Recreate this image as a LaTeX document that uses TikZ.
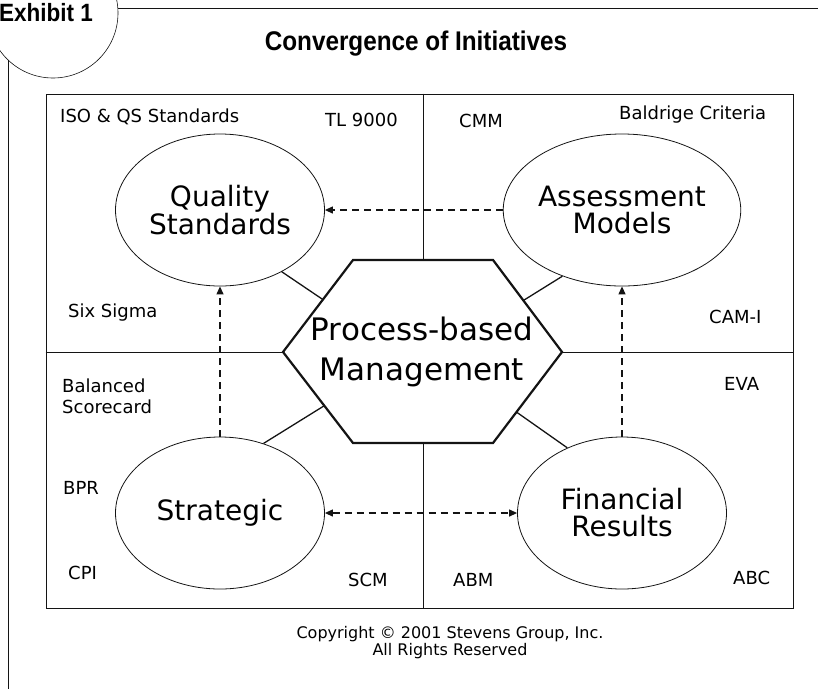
\documentclass[tikz,border=0pt]{standalone}
\usepackage{fontspec}
\setmainfont{DejaVu Sans}
\newfontfamily\headfont[FakeStretch=0.9]{Liberation Sans}
\usepackage{tikz}
\usetikzlibrary{positioning,arrows.meta,shapes.geometric,calc}
\definecolor{exInk}{RGB}{20,20,20}

\begin{document}
\begin{tikzpicture}[x=1pt,y=-1pt,
    area/.style={ellipse, draw=exInk, line width=0.8pt, minimum width=209, minimum height=152,
      inner sep=0, align=center, font=\fontsize{28}{27}\selectfont},
    tag/.style={anchor=west, inner sep=0, font=\fontsize{18}{21}\selectfont},
    rule/.style={exInk, line width=0.8pt},
    link/.style={exInk, line width=1.3pt},
    flow/.style={exInk, line width=1.2pt, dash pattern=on 7pt off 5pt,
      -{Triangle[length=8pt,width=7pt]}}]
  \useasboundingbox (0,0) rectangle (818,689);

  % Exhibit tab and page rules
  \node[circle, draw=exInk, line width=0.6pt, minimum size=130, inner sep=0] (tab) at (53,13) {};
  \node[anchor=base west, inner sep=0, font=\headfont\bfseries\fontsize{25}{27}\selectfont] (exhibit) at (-1,21) {Exhibit 1};
  \coordinate (topend) at (818,8);
  \coordinate (sideend) at (8,689);
  \draw[rule] (118,8) -- (topend);
  \draw[rule] (8,60) -- (sideend);

  % Title
  \node[anchor=base, font=\headfont\bfseries\fontsize{27}{30}\selectfont] (title) at (416,50) {Convergence of Initiatives};

  % Frame
  \node[draw=exInk, line width=0.8pt, minimum width=747, minimum height=514, inner sep=0] (frame) at (419.5,351) {};

  % Centre hexagon
  \coordinate (hw) at (283,352);
  \coordinate (hnw) at (353,260);
  \coordinate (hne) at (493,260);
  \coordinate (he) at (562,352);
  \coordinate (hse) at (493,443);
  \coordinate (hsw) at (353,443);
  \fill[white] (hw) -- (hnw) -- (hne) -- (he) -- (hse) -- (hsw) -- cycle;
  \draw[exInk, line width=2.2pt, line join=miter] (hw) -- (hnw) -- (hne) -- (he) -- (hse) -- (hsw) -- cycle;
  \node[align=center, inner sep=0, font=\fontsize{31}{40}\selectfont] (hub) at (422,352) {Process-based\\Management};

  % Quadrant dividers
  \coordinate (htop) at ($(hnw)!0.5!(hne)$);
  \coordinate (hbot) at ($(hsw)!0.5!(hse)$);
  \draw[rule] (htop |- frame.north) -- (htop);
  \draw[rule] (hbot) -- (hbot |- frame.south);
  \draw[rule] (frame.west |- hw) -- (hw);
  \draw[rule] (he) -- (frame.east |- he);

  % Four initiative groups
  \node[area] (quality) at (220,210) {Quality\\Standards};
  \node[area] (assess) at (622,210) {Assessment\\Models};
  \node[area] (strategic) at (220,513) {Strategic};
  \node[area] (financial) at (622,513) {Financial\\Results};

  % Links to the hub
  \draw[link] (quality.-45) -- ($(hw)!0.57!(hnw)$);
  \draw[link] (assess.-132) -- ($(he)!0.56!(hne)$);
  \draw[link] (strategic.58) -- ($(hw)!0.59!(hsw)$);
  \draw[link] (financial.130) -- ($(he)!0.66!(hse)$);

  % Dashed flows
  \draw[flow] (assess.west) -- (quality.east);
  \draw[flow] (strategic.north) -- (quality.south);
  \draw[flow] (financial.north) -- (assess.south);
  \draw[flow, {Triangle[length=8pt,width=7pt]}-{Triangle[length=8pt,width=7pt]}] (strategic.east) -- (financial.west);

  % Corner labels
  \node[tag] (iso) at (60,117) {ISO \& QS Standards};
  \node[tag] (tl) at (325,120) {TL 9000};
  \node[tag] (cmm) at (459,121) {CMM};
  \node[tag] (baldrige) at (619,115) {Baldrige Criteria};
  \node[tag] (sigma) at (68,313) {Six Sigma};
  \node[tag] (cam) at (709,317) {CAM-I};
  \node[tag, align=left] (bsc) at (62,396) {Balanced\\Scorecard};
  \node[tag] (eva) at (724,384) {EVA};
  \node[tag] (bpr) at (63,488) {BPR};
  \node[tag] (cpi) at (68,573) {CPI};
  \node[tag] (scm) at (348,580) {SCM};
  \node[tag] (abm) at (453,580) {ABM};
  \node[tag] (abc) at (733,578) {ABC};

  % Notice
  \node[align=center, font=\fontsize{16}{17}\selectfont] (notice) at (450,643) {Copyright © 2001 Stevens Group, Inc.\\All Rights Reserved};
\end{tikzpicture}
\end{document}
